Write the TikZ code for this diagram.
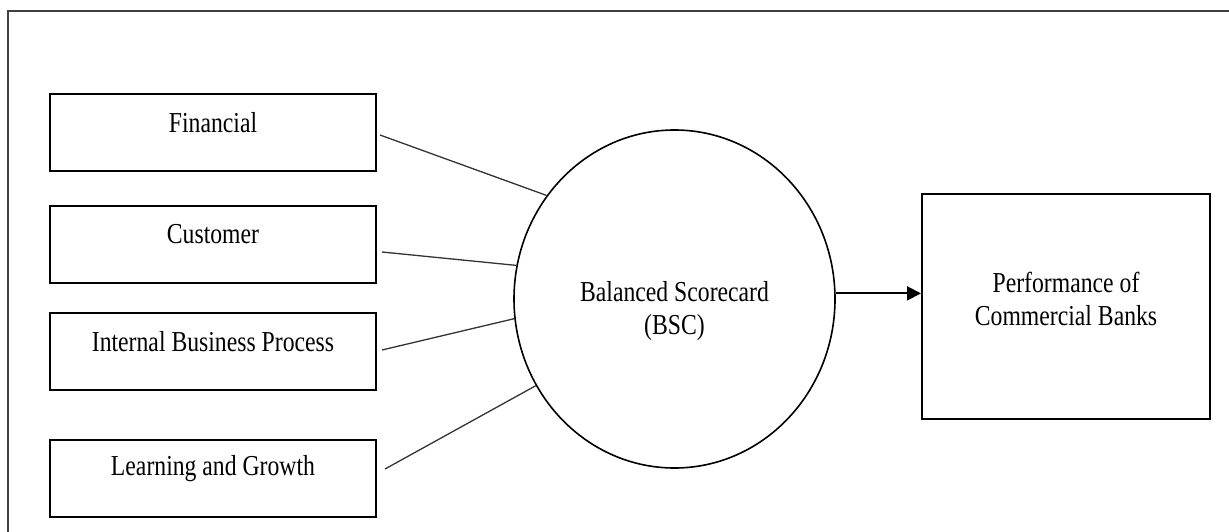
\documentclass[tikz,border=0pt]{standalone}
\usepackage{fontspec}
\setmainfont{Liberation Serif}
\usetikzlibrary{arrows.meta,shapes.geometric}
\newcommand\tallt[1]{\scalebox{1}[1.22]{#1}}
\tikzset{
  box/.style={draw=black, line width=2pt, minimum width=326pt, minimum height=77pt, inner sep=0pt},
  lbl/.style={font=\fontsize{23.7}{27}\selectfont, inner sep=0pt, text=black},
  conn/.style={draw=black!80, line width=1.3pt},
  arr/.style={draw=black, line width=2pt, -{Triangle[length=14pt,width=14pt]}},
  frame/.style={draw=black!75, line width=1.4pt}
}
\begin{document}
\begin{tikzpicture}[x=1pt,y=-1pt]
\useasboundingbox (0,0) rectangle (1229,532);
\coordinate (fbl) at (8,532);
\coordinate (ftl) at (8,11);
\coordinate (ftr) at (1229,11);
\draw[frame] (fbl) -- (ftl) -- (ftr);

\node[box] (fin) at (213,133) {};
\node[box] (cust) at (213,244) {};
\node[box] (int) at (213,351) {};
\node[box] (learn) at (213,478.5) {};

\node[lbl] (tfin) at (213,123) {\tallt{Financial}};
\node[lbl] (tcust) at (213,234) {\tallt{Customer}};
\node[lbl] (tint) at (213,342) {\tallt{Internal Business Process}};
\node[lbl] (tlearn) at (213,469) {\tallt{Learning and Growth}};

\node[draw=black, line width=1.6pt, ellipse, minimum width=321pt, minimum height=338pt, inner sep=0pt] (bsc) at (674.5,299) {};
\node[lbl] (tbsc) at (674.5,311.5) {\tallt{\begin{tabular}{@{}c@{}}Balanced Scorecard\\(BSC)\end{tabular}}};

\node[draw=black, line width=2pt, minimum width=288pt, minimum height=225pt, inner sep=0pt] (perf) at (1066,306.5) {};
\node[lbl] (tperf) at (1066,302.5) {\tallt{\begin{tabular}{@{}c@{}}Performance of\\Commercial Banks\end{tabular}}};

\draw[conn] ([shift={(3pt,-2pt)}]fin.east) -- (bsc.141);
\draw[conn] ([shift={(5pt,-8pt)}]cust.east) -- (bsc.168);
\draw[conn] ([shift={(5pt,1pt)}]int.east) -- (bsc.187.5);
\draw[conn] ([shift={(8pt,9.5pt)}]learn.east) -- (bsc.212.3);

\draw[arr] (bsc.2.5) -- (bsc.2.5 -| perf.west);
\end{tikzpicture}
\end{document}
